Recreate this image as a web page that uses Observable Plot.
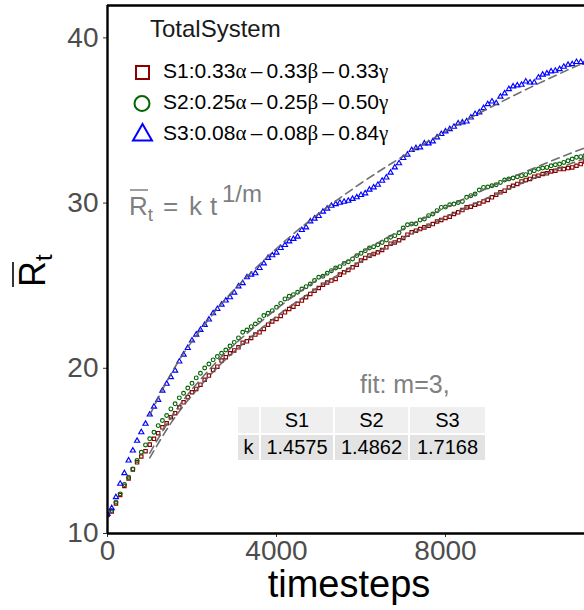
<!DOCTYPE html>
<html>
<head>
<meta charset="utf-8">
<script src="https://cdn.jsdelivr.net/npm/d3@7"></script>
<script src="https://cdn.jsdelivr.net/npm/@observablehq/plot@0.6"></script>
<style>
  html, body { margin: 0; padding: 0; background: #ffffff; }
  #wrap { position: relative; width: 584px; height: 610px; overflow: hidden; background: #ffffff; }
  #wrap svg { position: absolute; left: 0; top: 0; }
  #ktable { position: absolute; left: 238px; top: 407px; display: grid;
    grid-template-columns: 21px 72px 73px 75px; grid-template-rows: 26px 25px; gap: 2px;
    font-family: "Liberation Sans", Arial, sans-serif; font-size: 20px; color: #000; }
  #ktable div { display: flex; align-items: center; justify-content: center; }
  #ktable .h { background: #efefef; }
  #ktable .c { background: #e3e3e3; }
</style>
</head>
<body>
<div id="wrap"></div>
<script>
// ---- data ----
const timesteps = [
  0,100,200,300,400,500,600,700,800,900,
  1000,1100,1200,1300,1400,1500,1600,1700,1800,1900,
  2000,2100,2200,2300,2400,2500,2600,2700,2800,2900,
  3000,3100,3200,3300,3400,3500,3600,3700,3800,3900,
  4000,4100,4200,4300,4400,4500,4600,4700,4800,4900,
  5000,5100,5200,5300,5400,5500,5600,5700,5800,5900,
  6000,6100,6200,6300,6400,6500,6600,6700,6800,6900,
  7000,7100,7200,7300,7400,7500,7600,7700,7800,7900,
  8000,8100,8200,8300,8400,8500,8600,8700,8800,8900,
  9000,9100,9200,9300,9400,9500,9600,9700,9800,9900,
  10000,10100,10200,10300,10400,10500,10600,10700,10800,10900,
  11000,11100,11200,11300
];
const s1Values = [
  11.12,11.33,11.82,12.33,12.88,13.33,13.88,14.31,14.66,14.98,
  15.38,15.73,16.07,16.43,16.67,17.04,17.28,17.64,17.94,18.25,
  18.55,18.75,19.01,19.30,19.56,19.90,20.10,20.47,20.67,20.91,
  21.08,21.27,21.54,21.63,21.84,22.04,22.18,22.38,22.64,22.84,
  22.99,23.17,23.39,23.59,23.73,23.90,24.10,24.30,24.50,24.70,
  24.86,25.06,25.20,25.31,25.41,25.67,25.81,25.95,26.11,26.27,
  26.52,26.68,26.82,26.92,27.02,27.16,27.32,27.54,27.62,27.75,
  27.89,28.09,28.23,28.33,28.43,28.53,28.63,28.73,28.89,28.98,
  29.10,29.18,29.34,29.44,29.58,29.74,29.78,29.90,29.98,30.10,
  30.19,30.35,30.51,30.65,30.75,30.95,31.05,31.16,31.31,31.40,
  31.46,31.60,31.66,31.76,31.80,31.92,31.96,32.06,32.06,32.12,
  32.16,32.26,32.36,32.52
];
const s2Values = [
  11.15,11.39,11.90,12.40,12.96,13.41,13.91,14.42,14.92,15.36,
  15.73,16.13,16.53,16.84,17.14,17.54,17.85,18.21,18.49,18.81,
  19.09,19.42,19.70,20.02,20.26,20.51,20.71,20.91,21.11,21.35,
  21.57,21.84,22.18,22.32,22.52,22.68,22.93,23.19,23.33,23.49,
  23.69,23.93,24.20,24.36,24.46,24.60,24.80,24.94,25.10,25.31,
  25.51,25.57,25.75,25.91,26.07,26.15,26.35,26.45,26.62,26.82,
  26.96,27.12,27.28,27.36,27.48,27.62,27.77,27.93,28.03,28.21,
  28.49,28.69,28.73,28.75,28.98,29.04,29.24,29.34,29.54,29.74,
  29.76,29.90,29.94,30.04,30.10,30.35,30.45,30.55,30.79,30.95,
  30.97,31.05,31.11,31.25,31.40,31.46,31.52,31.60,31.66,31.72,
  31.86,31.96,32.06,32.12,32.16,32.26,32.32,32.36,32.46,32.56,
  32.67,32.77,32.81,32.87
];
const s3Values = [
  11.19,11.53,12.20,13.01,13.65,14.42,15.02,15.61,16.13,16.64,
  17.20,17.68,18.09,18.65,19.06,19.46,19.86,20.41,20.83,21.23,
  21.68,22.04,22.32,22.63,22.95,23.33,23.59,23.85,24.10,24.30,
  24.58,24.96,25.15,25.51,25.67,25.75,26.07,26.35,26.68,26.84,
  27.00,27.28,27.46,27.68,27.83,27.97,28.37,28.53,28.89,29.06,
  29.22,29.48,29.66,29.84,29.94,30.02,30.08,30.14,30.25,30.35,
  30.49,30.59,30.81,30.95,31.11,31.35,31.55,31.84,32.16,32.41,
  32.73,32.93,33.21,33.33,33.37,33.61,33.61,33.73,33.98,34.18,
  34.34,34.48,34.62,34.82,34.88,34.94,35.18,35.39,35.49,35.75,
  35.99,36.15,36.05,36.44,36.64,36.90,37.06,37.12,37.16,37.36,
  37.30,37.30,37.60,37.77,37.85,37.97,38.01,38.11,38.25,38.37,
  38.41,38.54,38.54,38.50
];
// fitted curves k * t^(1/3), read as values along the dashed lines
const fitTimes = [1000,1500,2000,2500,3000,4000,5000,6000,7000,8000,9000,10000,11000,12000];
const fitS1 = [14.58,16.68,18.36,19.78,21.02,23.14,24.92,26.48,27.88,29.15,30.32,31.40,32.42,33.37];
const fitS2 = [14.86,17.01,18.73,20.17,21.43,23.59,25.41,27.01,28.43,29.72,30.91,32.02,33.05,34.03];
const fitS3 = [17.17,19.65,21.63,23.30,24.76,27.25,29.36,31.20,32.84,34.34,35.71,36.99,38.18,39.30];

const seriesNames = ["S1", "S2", "S3"];
const legendParts = [["0.33","0.33","0.33"],["0.25","0.25","0.50"],["0.08","0.08","0.84"]];
const seriesColors = ["#8B0000", "#006400", "#0000FF"];
const seriesSymbols = ["square", "circle", "triangle"];
const kValues = ["1.4575", "1.4862", "1.7168"];
const xTicks = [0, 4000, 8000];
const yTicks = [10, 20, 30, 40];
const xDomain = [0, 11290];
const yDomain = [10, 41.96];

// ---- tables for Plot ----
const allValues = [s1Values, s2Values, s3Values];
const pts = allValues.map(vals => timesteps.map((t, i) => ({t, v: vals[i]})));
const fits = [fitS1, fitS2, fitS3];
const fitRows = [];
fits.forEach((vals, s) => fitTimes.forEach((t, i) => fitRows.push({t, v: vals[i], series: seriesNames[s]})));

const chart = Plot.plot({
  width: 584, height: 610,
  marginLeft: 107, marginRight: 0, marginTop: 5, marginBottom: 77,
  x: {domain: xDomain},
  y: {domain: yDomain},
  style: {fontFamily: "'Liberation Sans', Arial, sans-serif", background: "transparent", overflow: "hidden"},
  marks: [
    Plot.axisY({ticks: yTicks, tickSize: 4, tickPadding: 5, fontSize: 28, fill: "#4d4d4d", stroke: "#333333", label: null}),
    Plot.axisX({ticks: xTicks, tickFormat: "d", tickSize: 4, tickPadding: 3, fontSize: 28, fill: "#4d4d4d", stroke: "#333333", label: null}),
    ...[0, 1, 2].map(s => Plot.dot(pts[s], {x: "t", y: "v", symbol: seriesSymbols[s], stroke: seriesColors[s], r: 1.9, strokeWidth: 1.15, fill: "none", clip: true})),
    Plot.line(fitRows, {x: "t", y: "v", z: "series", stroke: "#5f5f5f", strokeOpacity: 0.9, strokeWidth: 1.6, strokeDasharray: "8,5", curve: "natural", clip: true}),
    Plot.ruleX([xDomain[0]], {stroke: "#000", strokeWidth: 2.4}),
    Plot.ruleY([yDomain[0]], {stroke: "#000", strokeWidth: 2.4}),
    Plot.ruleY([yDomain[1]], {stroke: "#000", strokeWidth: 2.4})
  ]
});

const wrap = document.getElementById("wrap");
wrap.appendChild(chart);

// ---- annotations overlay ----
const ov = d3.select(wrap).append("svg")
  .attr("width", 584).attr("height", 610)
  .style("font-family", "'Liberation Sans', Arial, sans-serif");

// y axis title: R-bar with subscript t, rotated
const yl = ov.append("g").attr("transform", "translate(45,287) rotate(-90)");
yl.append("text").attr("font-size", 36).attr("fill", "#000")
  .call(t => { t.append("tspan").text("R"); t.append("tspan").attr("dy", 7).attr("font-size", 24).text("t"); });
yl.append("line").attr("x1", 0).attr("x2", 25).attr("y1", -32).attr("y2", -32).attr("stroke", "#000").attr("stroke-width", 1.6);

// x axis title
ov.append("text").attr("x", 349).attr("y", 597).attr("text-anchor", "middle")
  .attr("font-size", 38).attr("fill", "#000").text("timesteps");

// legend
ov.append("text").attr("x", 150).attr("y", 37).attr("font-size", 24).attr("fill", "#1a1a1a").text("TotalSystem");
const rowY = [78, 109, 140];
seriesNames.forEach((s, i) => {
  const t = ov.append("text").attr("x", 163).attr("y", rowY[i]).attr("font-size", 21).attr("fill", "#000");
  const p = legendParts[i];
  t.append("tspan").text(s + ":" + p[0]);
  t.append("tspan").attr("font-family", "'Liberation Serif', serif").text("α");
  t.append("tspan").text("\u2009\u2013\u2009" + p[1]);
  t.append("tspan").attr("font-family", "'Liberation Serif', serif").text("β");
  t.append("tspan").text("\u2009\u2013\u2009" + p[2]);
  t.append("tspan").attr("font-family", "'Liberation Serif', serif").text("γ");
});
ov.append("rect").attr("x", 136).attr("y", 66).attr("width", 13).attr("height", 13)
  .attr("fill", "none").attr("stroke", seriesColors[0]).attr("stroke-width", 2);
ov.append("circle").attr("cx", 142).attr("cy", 103.5).attr("r", 7.5)
  .attr("fill", "none").attr("stroke", seriesColors[1]).attr("stroke-width", 2);
ov.append("path").attr("d", "M142.5,124 L133,140.5 L152,140.5 Z")
  .attr("fill", "none").attr("stroke", seriesColors[2]).attr("stroke-width", 2);

// formula
const fx = ov.append("text").attr("y", 215).attr("font-size", 26).attr("fill", "#7f7f7f");
fx.append("tspan").attr("x", 129).text("R");
fx.append("tspan").attr("dy", 6).attr("font-size", 19).text("t");
fx.append("tspan").attr("x", 163).attr("dy", -6).text("=");
fx.append("tspan").attr("x", 189).text("k");
fx.append("tspan").attr("x", 210).text("t");
fx.append("tspan").attr("x", 222).attr("dy", -13).attr("font-size", 24).text("1/m");
ov.append("line").attr("x1", 130).attr("x2", 148).attr("y1", 190).attr("y2", 190).attr("stroke", "#7f7f7f").attr("stroke-width", 1.5);

// fit label
ov.append("text").attr("x", 360).attr("y", 393).attr("font-size", 25).attr("fill", "#808080").text("fit: m=3,");

// k table
const tbl = document.createElement("div");
tbl.id = "ktable";
const cells = [["", "h"]].concat(seriesNames.map(s => [s, "h"]), [["k", "c"]], kValues.map(k => [k, "c"]));
cells.forEach(([txt, cls]) => { const d = document.createElement("div"); d.className = cls; d.textContent = txt; tbl.appendChild(d); });
wrap.appendChild(tbl);
</script>
</body>
</html>
